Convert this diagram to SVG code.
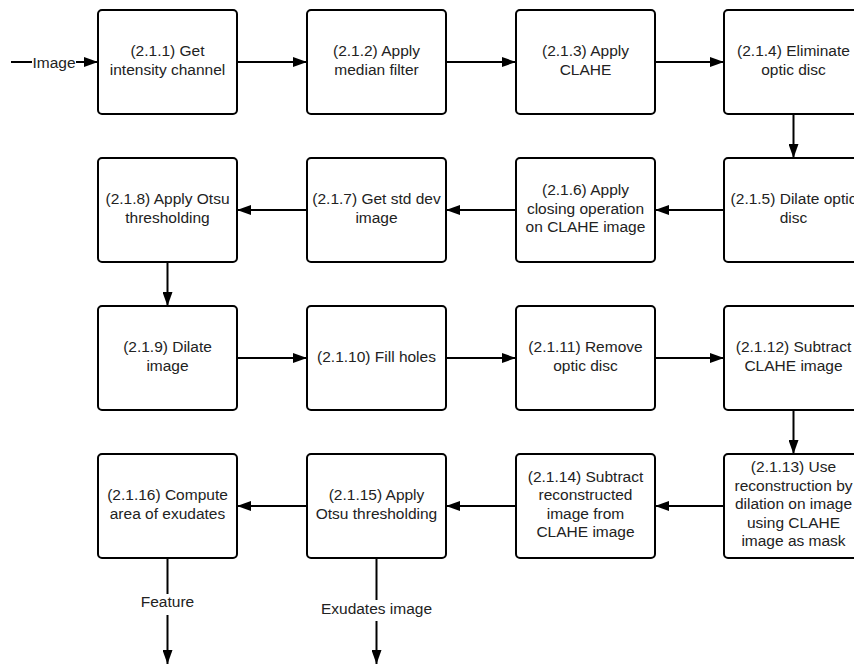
<svg xmlns="http://www.w3.org/2000/svg" width="854" height="665" viewBox="0 0 854 665">
  <style>
    .box { fill: #ffffff; stroke: #000000; stroke-width: 2; }
    .lbl { font-family: "Liberation Sans", Arial, sans-serif; font-size: 15.5px; fill: #222222; text-anchor: middle; }
    .edge { stroke: #000000; stroke-width: 2; fill: none; marker-end: url(#arrow); }
    .plain { stroke: #000000; stroke-width: 2; fill: none; }
    .tag-bg { fill: #ffffff; }
  </style>
  <defs>
    <marker id="arrow" markerUnits="userSpaceOnUse" markerWidth="14" markerHeight="10" refX="14" refY="5" orient="auto">
      <path d="M0,0 L14,5 L0,10 z" fill="#000000"/>
    </marker>
  </defs>
  <rect width="854" height="665" fill="#ffffff"/>

  <!-- connectors -->
  <g id="connectors">
    <!-- input -->
    <line class="edge" x1="11" y1="62" x2="98" y2="62"/>
    <rect class="tag-bg" x="32" y="52" width="44" height="20"/>
    <text class="lbl" x="54" y="67.5">Image</text>
    <!-- row 1 -->
    <line class="edge" x1="237" y1="62" x2="307" y2="62"/>
    <line class="edge" x1="446" y1="62" x2="516" y2="62"/>
    <line class="edge" x1="655" y1="62" x2="724" y2="62"/>
    <line class="edge" x1="793.5" y1="114" x2="793.5" y2="158"/>
    <!-- row 2 -->
    <line class="edge" x1="724" y1="210" x2="655" y2="210"/>
    <line class="edge" x1="516" y1="210" x2="446" y2="210"/>
    <line class="edge" x1="307" y1="210" x2="237" y2="210"/>
    <line class="edge" x1="167.5" y1="262" x2="167.5" y2="306"/>
    <!-- row 3 -->
    <line class="edge" x1="237" y1="358" x2="307" y2="358"/>
    <line class="edge" x1="446" y1="358" x2="516" y2="358"/>
    <line class="edge" x1="655" y1="358" x2="724" y2="358"/>
    <line class="edge" x1="793.5" y1="410" x2="793.5" y2="454"/>
    <!-- row 4 -->
    <line class="edge" x1="724" y1="506" x2="655" y2="506"/>
    <line class="edge" x1="516" y1="506" x2="446" y2="506"/>
    <line class="edge" x1="307" y1="506" x2="237" y2="506"/>
    <!-- outputs -->
    <line class="edge" x1="167.5" y1="558" x2="167.5" y2="664"/>
    <rect class="tag-bg" x="140" y="594" width="55" height="21"/>
    <text class="lbl" x="167.5" y="607">Feature</text>
    <line class="edge" x1="376.5" y1="558" x2="376.5" y2="664"/>
    <rect class="tag-bg" x="319" y="600" width="115" height="21"/>
    <text class="lbl" x="376.5" y="614">Exudates image</text>
  </g>

  <!-- row 1 -->
  <g id="n211">
    <rect class="box" x="98" y="10" width="139" height="104" rx="4"/>
    <text class="lbl" x="167.5" y="56.3">(2.1.1) Get</text>
    <text class="lbl" x="167.5" y="74.8">intensity channel</text>
  </g>
  <g id="n212">
    <rect class="box" x="307" y="10" width="139" height="104" rx="4"/>
    <text class="lbl" x="376.5" y="56.3">(2.1.2) Apply</text>
    <text class="lbl" x="376.5" y="74.8">median filter</text>
  </g>
  <g id="n213">
    <rect class="box" x="516" y="10" width="139" height="104" rx="4"/>
    <text class="lbl" x="585.5" y="56.3">(2.1.3) Apply</text>
    <text class="lbl" x="585.5" y="74.8">CLAHE</text>
  </g>
  <g id="n214">
    <rect class="box" x="724" y="10" width="139" height="104" rx="4"/>
    <text class="lbl" x="793.5" y="56.3">(2.1.4) Eliminate</text>
    <text class="lbl" x="793.5" y="74.8">optic disc</text>
  </g>

  <!-- row 2 -->
  <g id="n215">
    <rect class="box" x="724" y="158" width="139" height="104" rx="4"/>
    <text class="lbl" x="793.5" y="204.3">(2.1.5) Dilate optic</text>
    <text class="lbl" x="793.5" y="222.8">disc</text>
  </g>
  <g id="n216">
    <rect class="box" x="516" y="158" width="139" height="104" rx="4"/>
    <text class="lbl" x="585.5" y="195">(2.1.6) Apply</text>
    <text class="lbl" x="585.5" y="213.5">closing operation</text>
    <text class="lbl" x="585.5" y="232">on CLAHE image</text>
  </g>
  <g id="n217">
    <rect class="box" x="307" y="158" width="139" height="104" rx="4"/>
    <text class="lbl" x="376.5" y="204.3">(2.1.7) Get std dev</text>
    <text class="lbl" x="376.5" y="222.8">image</text>
  </g>
  <g id="n218">
    <rect class="box" x="98" y="158" width="139" height="104" rx="4"/>
    <text class="lbl" x="167.5" y="204.3">(2.1.8) Apply Otsu</text>
    <text class="lbl" x="167.5" y="222.8">thresholding</text>
  </g>

  <!-- row 3 -->
  <g id="n219">
    <rect class="box" x="98" y="306" width="139" height="104" rx="4"/>
    <text class="lbl" x="167.5" y="352.3">(2.1.9) Dilate</text>
    <text class="lbl" x="167.5" y="370.8">image</text>
  </g>
  <g id="n2110">
    <rect class="box" x="307" y="306" width="139" height="104" rx="4"/>
    <text class="lbl" x="376.5" y="361.5">(2.1.10) Fill holes</text>
  </g>
  <g id="n2111">
    <rect class="box" x="516" y="306" width="139" height="104" rx="4"/>
    <text class="lbl" x="585.5" y="352.3">(2.1.11) Remove</text>
    <text class="lbl" x="585.5" y="370.8">optic disc</text>
  </g>
  <g id="n2112">
    <rect class="box" x="724" y="306" width="139" height="104" rx="4"/>
    <text class="lbl" x="793.5" y="352.3">(2.1.12) Subtract</text>
    <text class="lbl" x="793.5" y="370.8">CLAHE image</text>
  </g>

  <!-- row 4 -->
  <g id="n2113">
    <rect class="box" x="724" y="454" width="139" height="104" rx="4"/>
    <text class="lbl" x="793.5" y="472">(2.1.13) Use</text>
    <text class="lbl" x="793.5" y="490.5">reconstruction by</text>
    <text class="lbl" x="793.5" y="509">dilation on image</text>
    <text class="lbl" x="793.5" y="527.5">using CLAHE</text>
    <text class="lbl" x="793.5" y="546">image as mask</text>
  </g>
  <g id="n2114">
    <rect class="box" x="516" y="454" width="139" height="104" rx="4"/>
    <text class="lbl" x="585.5" y="481.7">(2.1.14) Subtract</text>
    <text class="lbl" x="585.5" y="500.2">reconstructed</text>
    <text class="lbl" x="585.5" y="518.7">image from</text>
    <text class="lbl" x="585.5" y="537.2">CLAHE image</text>
  </g>
  <g id="n2115">
    <rect class="box" x="307" y="454" width="139" height="104" rx="4"/>
    <text class="lbl" x="376.5" y="500.3">(2.1.15) Apply</text>
    <text class="lbl" x="376.5" y="518.8">Otsu thresholding</text>
  </g>
  <g id="n2116">
    <rect class="box" x="98" y="454" width="139" height="104" rx="4"/>
    <text class="lbl" x="167.5" y="500.3">(2.1.16) Compute</text>
    <text class="lbl" x="167.5" y="518.8">area of exudates</text>
  </g>
</svg>
